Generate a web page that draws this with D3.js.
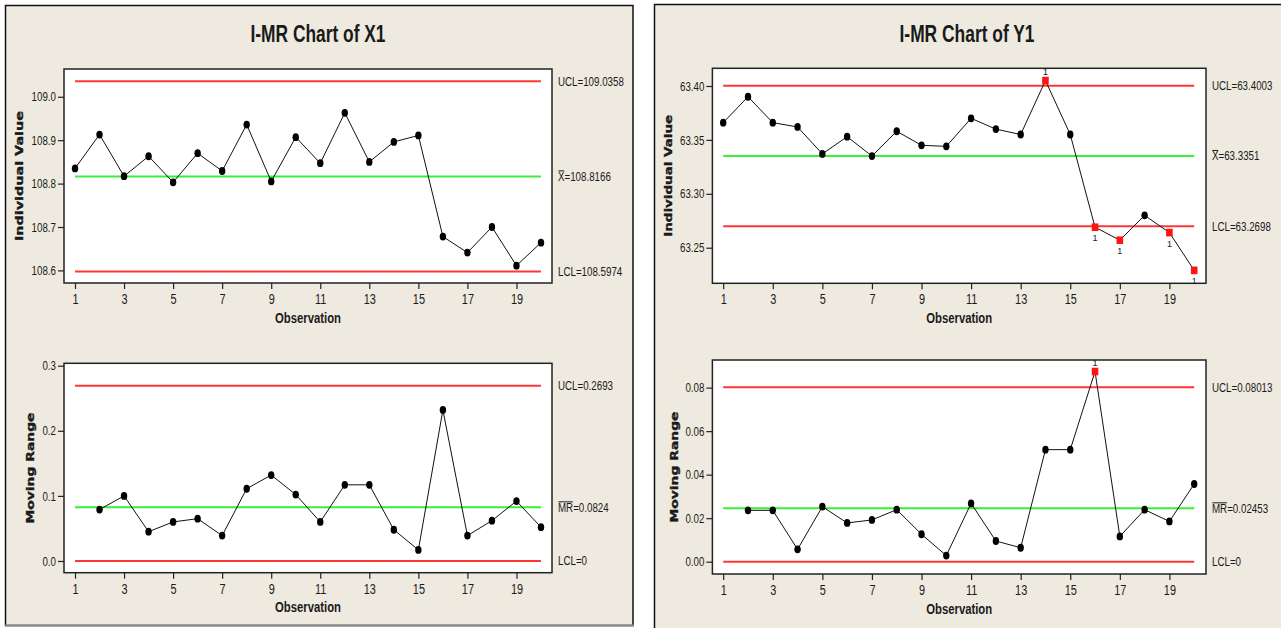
<!DOCTYPE html>
<html>
<head>
<meta charset="utf-8">
<script src="https://cdn.jsdelivr.net/npm/d3@7"></script>
<style>
  html, body { margin: 0; padding: 0; background: #fff; }
  svg { display: block; }
  text { font-family: "Liberation Sans", Arial, sans-serif; fill: #1a1a1a; }
</style>
</head>
<body>
<svg id="chart" width="1281" height="628"></svg>
<script>
// ---- data ----
const observations = [1, 2, 3, 4, 5, 6, 7, 8, 9, 10, 11, 12, 13, 14, 15, 16, 17, 18, 19, 20];
const obsTicks = [1, 3, 5, 7, 9, 11, 13, 15, 17, 19];

const x1Values = [108.835, 108.913, 108.817, 108.863, 108.803, 108.870, 108.829, 108.936, 108.805, 108.907,
                  108.847, 108.963, 108.850, 108.896, 108.911, 108.678, 108.641, 108.700, 108.611, 108.664];
const x1MovingRange = [null, 0.079, 0.100, 0.045, 0.060, 0.065, 0.039, 0.111, 0.132, 0.102,
                       0.060, 0.117, 0.117, 0.048, 0.017, 0.232, 0.039, 0.062, 0.092, 0.052];
const y1Values = [63.366, 63.390, 63.366, 63.362, 63.337, 63.353, 63.335, 63.358, 63.345, 63.344,
                  63.370, 63.360, 63.355, 63.405, 63.355, 63.269, 63.257, 63.280, 63.264, 63.229];
const y1MovingRange = [null, 0.0236, 0.0236, 0.0057, 0.0253, 0.0178, 0.0192, 0.0239, 0.0126, 0.0028,
                       0.0268, 0.0095, 0.0064, 0.0515, 0.0515, 0.0874, 0.0116, 0.0239, 0.0185, 0.0357];

// control limits: [UCL, centre, LCL]
const x1IndLimits = [109.0358, 108.8166, 108.5974];
const x1MrLimits = [0.2693, 0.0824, 0];
const y1IndLimits = [63.4003, 63.3351, 63.2698];
const y1MrLimits = [0.08013, 0.02453, 0];

// limit label texts
const x1IndLabels = ["UCL=109.0358", "X=108.8166", "LCL=108.5974"];
const x1MrLabels = ["UCL=0.2693", "MR=0.0824", "LCL=0"];
const y1IndLabels = ["UCL=63.4003", "X=63.3351", "LCL=63.2698"];
const y1MrLabels = ["UCL=0.08013", "MR=0.02453", "LCL=0"];

// y-axis tick values
const x1IndTicks = [108.6, 108.7, 108.8, 108.9, 109.0];
const x1MrTicks = [0.0, 0.1, 0.2, 0.3];
const y1IndTicks = [63.25, 63.30, 63.35, 63.40];
const y1MrTicks = [0.00, 0.02, 0.04, 0.06, 0.08];

const titles = ["I-MR Chart of X1", "I-MR Chart of Y1"];

// ---- drawing ----
const svg = d3.select("#chart");
const BG = "#eeeae0";
const RED = "#ff3636";
const GREEN = "#36f036";
const NARROW = 0.78; // horizontal squeeze giving a condensed face

function squeeze(node, k = NARROW) {
  const L = node.getComputedTextLength();
  node.setAttribute("textLength", L * k);
  node.setAttribute("lengthAdjust", "spacingAndGlyphs");
}

// panel frames
svg.append("rect").attr("x", 5.5).attr("y", 5.5).attr("width", 627.5).attr("height", 620)
  .attr("fill", BG).attr("stroke", "#111").attr("stroke-width", 1.5);
svg.append("line").attr("x1", 5).attr("x2", 634).attr("y1", 625.5).attr("y2", 625.5)
  .attr("stroke", "#8a8a8a").attr("stroke-width", 2);
svg.append("rect").attr("x", 654.5).attr("y", 4.5).attr("width", 700).attr("height", 700)
  .attr("fill", BG).attr("stroke", "#111").attr("stroke-width", 1.5);

// titles
[[titles[0], 318], [titles[1], 967]].forEach(([t, cx]) => {
  svg.append("text").attr("x", cx).attr("y", 42).attr("text-anchor", "middle")
    .attr("font-size", 23).attr("font-weight", "bold")
    .attr("textLength", 135).attr("lengthAdjust", "spacingAndGlyphs").text(t);
});

function drawPanel(p) {
  const g = svg.append("g");
  const x = d3.scaleLinear().domain([1, 20]).range(p.xRange);
  const y = d3.scaleLinear().domain(p.yDomain).range([p.box.bottom, p.box.top]);

  g.append("rect").attr("x", p.box.left).attr("y", p.box.top)
    .attr("width", p.box.right - p.box.left).attr("height", p.box.bottom - p.box.top)
    .attr("fill", "#fff").attr("stroke", "#222").attr("stroke-width", 1.5);

  const yAxis = d3.axisLeft(y).tickValues(p.yTicks).tickFormat(d3.format(p.fmt)).tickSize(6).tickPadding(2);
  const ya = g.append("g").attr("transform", `translate(${p.box.left},0)`).call(yAxis);
  ya.select(".domain").remove();
  ya.selectAll("line").attr("stroke", "#222").attr("stroke-width", 1.2);
  ya.attr("font-family", null).attr("font-size", null);
  ya.selectAll("text").attr("font-size", 13).attr("fill", "#1a1a1a").each(function () { squeeze(this, 0.75); });

  const xAxis = d3.axisBottom(x).tickValues(obsTicks).tickFormat(d3.format("d")).tickSize(6).tickPadding(5);
  const xa = g.append("g").attr("transform", `translate(0,${p.box.bottom})`).call(xAxis);
  xa.select(".domain").remove();
  xa.selectAll("line").attr("stroke", "#222").attr("stroke-width", 1.2);
  xa.attr("font-family", null).attr("font-size", null);
  xa.selectAll("text").attr("font-size", 14).attr("fill", "#1a1a1a").each(function () { squeeze(this); });

  g.append("text").attr("x", (p.box.left + p.box.right) / 2).attr("y", p.box.bottom + 39.5)
    .attr("text-anchor", "middle").attr("font-size", 14).attr("font-weight", "bold")
    .attr("textLength", 66).attr("lengthAdjust", "spacingAndGlyphs")
    .text("Observation");

  g.append("text")
    .attr("transform", `translate(${p.yLabelX},${(p.box.top + p.box.bottom) / 2}) rotate(-90)`)
    .attr("text-anchor", "middle").attr("dy", "0.36em")
    .style("font-family", "'DejaVu Sans', sans-serif").attr("font-size", 11).attr("font-weight", "bold")
    .attr("stroke", "#1a1a1a").attr("stroke-width", 0.35)
    .attr("textLength", p.yLabelLen).attr("lengthAdjust", "spacingAndGlyphs")
    .text(p.yLabel);

  // control limit lines
  const colors = [RED, GREEN, RED];
  p.limits.forEach((v, i) => {
    g.append("line").attr("x1", x(1)).attr("x2", x(20)).attr("y1", y(v)).attr("y2", y(v))
      .attr("stroke", colors[i]).attr("stroke-width", 2);
  });

  // limit labels (centre line label carries an overbar)
  p.limits.forEach((v, i) => {
    const t = g.append("text").attr("x", p.box.right + 6).attr("y", y(v) + 4.5)
      .attr("font-size", 12.5).text(p.limitLabels[i]);
    const n = p.limitLabels[i].startsWith("MR") ? 2 : 1;
    const w = t.node().getSubStringLength(0, n) * NARROW;
    squeeze(t.node());
    if (i === 1) {
      g.append("line").attr("x1", p.box.right + 6.3).attr("x2", p.box.right + 6 + w - 0.3)
        .attr("y1", y(v) - 5.5).attr("y2", y(v) - 5.5)
        .attr("stroke", "#1a1a1a").attr("stroke-width", 1);
    }
  });

  const pts = observations.map((o, i) => ({ obs: o, v: p.values[i] })).filter(d => d.v != null);
  const ucl = p.limits[0], lcl = p.limits[2];
  const out = d => d.v > ucl || (lcl > 0 && d.v < lcl);

  g.append("path").datum(pts)
    .attr("d", d3.line().x(d => x(d.obs)).y(d => y(d.v)))
    .attr("fill", "none").attr("stroke", "#111").attr("stroke-width", 1);

  g.selectAll("ellipse.pt").data(pts.filter(d => !out(d))).join("ellipse")
    .attr("class", "pt").attr("cx", d => x(d.obs)).attr("cy", d => y(d.v))
    .attr("rx", 3.2).attr("ry", 3.9).attr("fill", "#000");

  const flagged = pts.filter(out);
  g.selectAll("rect.flag").data(flagged).join("rect")
    .attr("class", "flag").attr("x", d => x(d.obs) - 3.3).attr("y", d => y(d.v) - 3.8)
    .attr("width", 6.6).attr("height", 7.6).attr("fill", "#ff1414");
  g.selectAll("text.flag").data(flagged).join("text")
    .attr("class", "flag").attr("x", d => x(d.obs)).attr("y", d => d.v > ucl ? y(d.v) - 6 : y(d.v) + 14)
    .attr("text-anchor", "middle").attr("font-size", 9).attr("fill", "#2a3550").text("1");
}

drawPanel({
  box: { left: 64, right: 552, top: 69, bottom: 283 }, xRange: [75, 541],
  yDomain: [108.571, 109.064], yTicks: x1IndTicks, fmt: ".1f",
  values: x1Values, limits: x1IndLimits, limitLabels: x1IndLabels,
  yLabel: "Individual Value", yLabelX: 19, yLabelLen: 130
});
drawPanel({
  box: { left: 64, right: 552, top: 363.3, bottom: 572.7 }, xRange: [75, 541],
  yDomain: [-0.018, 0.3037], yTicks: x1MrTicks, fmt: ".1f",
  values: x1MovingRange, limits: x1MrLimits, limitLabels: x1MrLabels,
  yLabel: "Moving Range", yLabelX: 30, yLabelLen: 111
});
drawPanel({
  box: { left: 712.4, right: 1206, top: 68.3, bottom: 283.3 }, xRange: [723.2, 1194.2],
  yDomain: [63.217, 63.4164], yTicks: y1IndTicks, fmt: ".2f",
  values: y1Values, limits: y1IndLimits, limitLabels: y1IndLabels,
  yLabel: "Individual Value", yLabelX: 668, yLabelLen: 122
});
drawPanel({
  box: { left: 712.4, right: 1206, top: 360, bottom: 574 }, xRange: [723.2, 1194.2],
  yDomain: [-0.00566, 0.0927], yTicks: y1MrTicks, fmt: ".2f",
  values: y1MovingRange, limits: y1MrLimits, limitLabels: y1MrLabels,
  yLabel: "Moving Range", yLabelX: 674, yLabelLen: 111
});
</script>
</body>
</html>
